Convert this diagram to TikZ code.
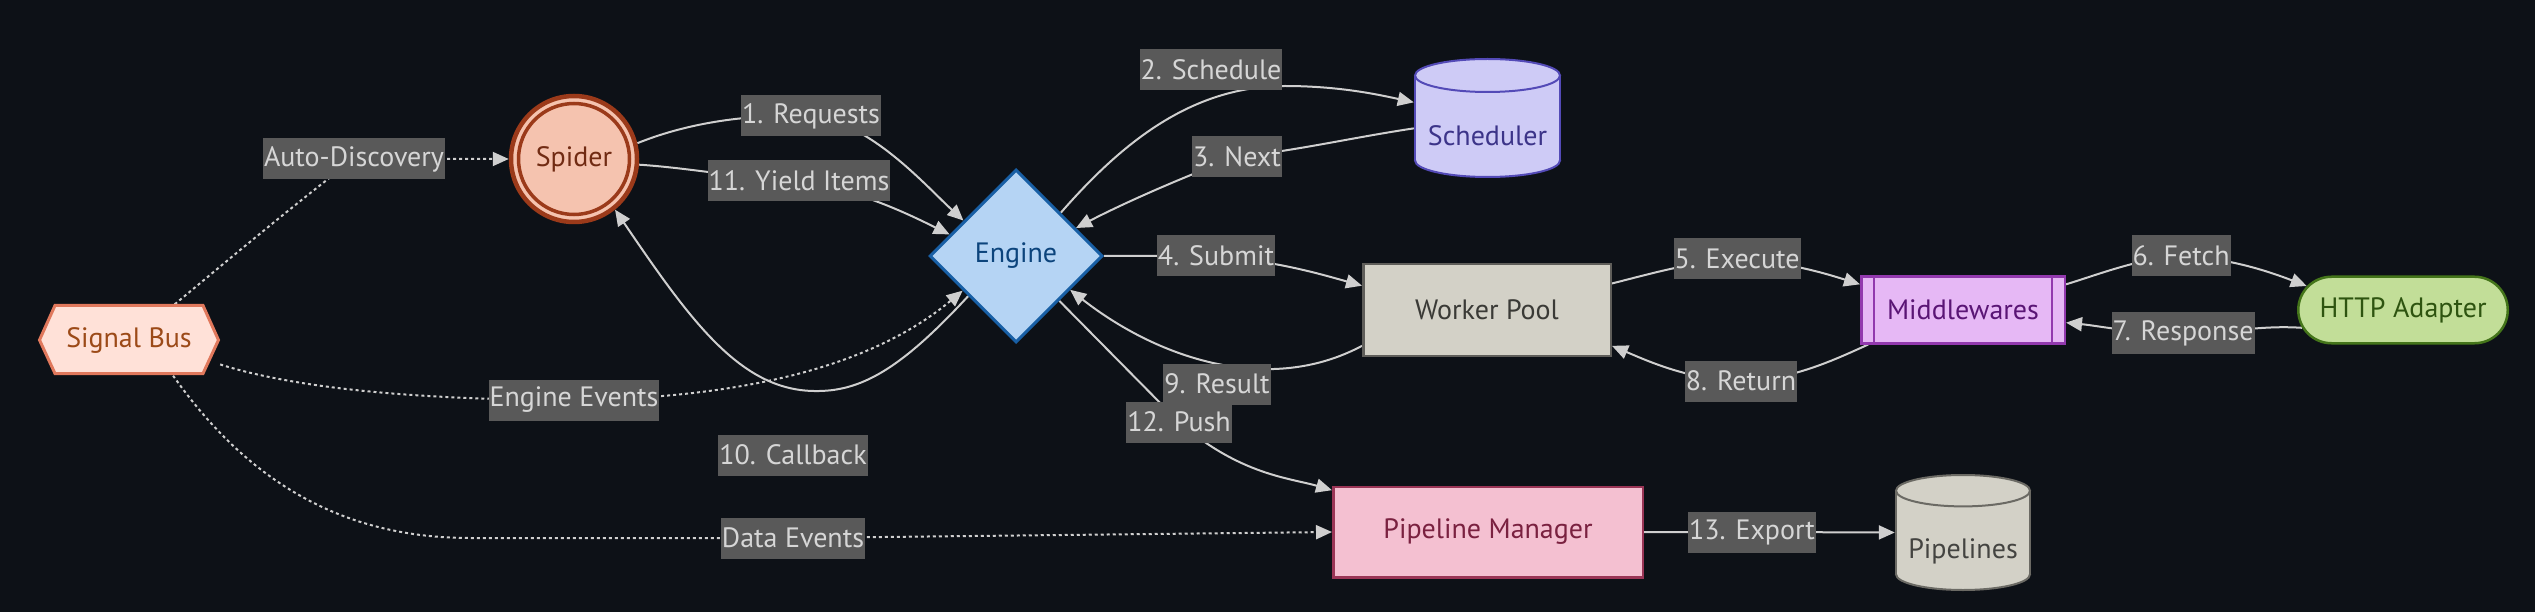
\documentclass[tikz,border=0pt]{standalone}
\usepackage{fontspec}
\setmainfont{PT Sans}
\usetikzlibrary{arrows.meta,shapes.geometric,shapes.misc}
\definecolor{bgc}{HTML}{0D1117}
\definecolor{edgec}{HTML}{CFCFCF}
\definecolor{lblbg}{HTML}{595959}
\definecolor{lbltxt}{HTML}{D6D6D6}
\definecolor{sbfill}{HTML}{FFE1D8}
\definecolor{sbdraw}{HTML}{E0785C}
\definecolor{sbtxt}{HTML}{9C4A18}
\definecolor{spfill}{HTML}{F5C3AF}
\definecolor{spdraw}{HTML}{9B3A1A}
\definecolor{sptxt}{HTML}{712B13}
\definecolor{enfill}{HTML}{B5D4F4}
\definecolor{endraw}{HTML}{185FA5}
\definecolor{entxt}{HTML}{0C447C}
\definecolor{scfill}{HTML}{CECBF6}
\definecolor{scdraw}{HTML}{534AB7}
\definecolor{sctxt}{HTML}{3C3489}
\definecolor{wpfill}{HTML}{D3D1C7}
\definecolor{wpdraw}{HTML}{5F5E5A}
\definecolor{wptxt}{HTML}{3A3A36}
\definecolor{mwfill}{HTML}{E6B8F5}
\definecolor{mwdraw}{HTML}{9239AE}
\definecolor{mwtxt}{HTML}{5A1575}
\definecolor{htfill}{HTML}{C2DE98}
\definecolor{htdraw}{HTML}{44751A}
\definecolor{httxt}{HTML}{2E5410}
\definecolor{pmfill}{HTML}{F4C0D1}
\definecolor{pmdraw}{HTML}{9A3556}
\definecolor{pmtxt}{HTML}{7A2140}
\definecolor{plfill}{HTML}{D3D1C7}
\definecolor{pldraw}{HTML}{6B6A64}
\definecolor{pltxt}{HTML}{444441}
\pgfdeclarelayer{edgelayer}
\pgfsetlayers{edgelayer,main}
\begin{document}
\begin{tikzpicture}[x=1pt,y=-1pt,
  every node/.style={font=\fontsize{28}{32}\selectfont},
  edge/.style={draw=edgec,line width=2pt,-{Triangle[length=16pt,width=14pt]}},
  dotline/.style={edge,dash pattern=on 3pt off 3pt},
  lbl/.style={fill=lblbg,text=lbltxt,inner xsep=1pt,inner ysep=0pt,minimum height=41pt},
  box/.style={rectangle,inner sep=0pt,line width=2.5pt},
  anchorbox/.style={rectangle,inner sep=0pt,draw=none}]
\useasboundingbox (0,0) rectangle (2535,612);

% Signal Bus hexagon
\filldraw[fill=sbfill,draw=sbdraw,line width=3pt] (39.5,340) -- (55,305.5) -- (203,305.5) -- (218.5,340) -- (203,373.5) -- (55,373.5) -- cycle;
\node[anchorbox,minimum width=182pt,minimum height=71pt,text=sbtxt] (sb) at (129,340) {Signal Bus};

% Spider
\node[circle,inner sep=0pt,minimum size=126pt,fill=spfill,draw=spdraw,line width=4.5pt,text=sptxt] (spider) at (574,159) {Spider};
\draw[spdraw,line width=3.5pt] (spider.center) circle [radius=55.5];

% Engine
\node[diamond,inner sep=0pt,minimum width=173pt,minimum height=173pt,fill=enfill,draw=endraw,line width=3pt,text=entxt] (engine) at (1016,256) {Engine};

% Scheduler cylinder
\filldraw[fill=scfill,draw=scdraw,line width=2pt] (1487.5,160.5) ellipse [x radius=72.5, y radius=16.5];
\fill[scfill] (1415,75.5) rectangle (1560,160.5);
\draw[scdraw,line width=2pt] (1415,75.5) -- (1415,160.5) (1560,75.5) -- (1560,160.5);
\filldraw[fill=scfill,draw=scdraw,line width=2pt] (1487.5,75.5) ellipse [x radius=72.5, y radius=16.5];
\node[anchorbox,minimum width=147pt,minimum height=120pt] (sched) at (1487.5,118) {};
\node[text=sctxt] (schedtxt) at (1487.5,136) {Scheduler};

% Worker Pool
\node[box,minimum width=247.5pt,minimum height=91.5pt,fill=wpfill,draw=wpdraw,text=wptxt] (worker) at (1487,310) {Worker Pool};

% Middlewares
\node[box,minimum width=203.5pt,minimum height=66.5pt,fill=mwfill,draw=mwdraw,text=mwtxt] (mw) at (1963,310) {Middlewares};
\draw[mwdraw,line width=2.5pt] (1874,277) -- (1874,343) (2052,277) -- (2052,343);

% HTTP Adapter
\node[rounded rectangle,inner sep=0pt,minimum width=209.5pt,minimum height=66.5pt,fill=htfill,draw=htdraw,line width=2.5pt,text=httxt] (http) at (2403,310) {HTTP Adapter};

% Pipeline Manager
\node[box,minimum width=309.5pt,minimum height=90.5pt,fill=pmfill,draw=pmdraw,text=pmtxt] (pm) at (1488,532) {Pipeline Manager};

% Pipelines cylinder
\filldraw[fill=plfill,draw=pldraw,line width=2pt] (1963,574.3) ellipse [x radius=67, y radius=15.7];
\fill[plfill] (1896,490.7) rectangle (2030,574.3);
\draw[pldraw,line width=2pt] (1896,490.7) -- (1896,574.3) (2030,490.7) -- (2030,574.3);
\filldraw[fill=plfill,draw=pldraw,line width=2pt] (1963,490.7) ellipse [x radius=67, y radius=15.7];
\node[anchorbox,minimum width=136pt,minimum height=117pt] (pipes) at (1963,532.5) {};
\node[text=pltxt] (pipestxt) at (1963,551) {Pipelines};

% Edge labels
\node[lbl] (lauto) at (354,159) {Auto-Discovery};
\node[lbl] (lreq) at (811,116) {1. Requests};
\node[lbl] (lyield) at (799,181) {11. Yield Items};
\node[lbl] (lsched) at (1211,70) {2. Schedule};
\node[lbl] (lnext) at (1237,157) {3. Next};
\node[lbl] (lsubmit) at (1216,256) {4. Submit};
\node[lbl] (lexec) at (1737,259) {5. Execute};
\node[lbl] (lfetch) at (2181,256) {6. Fetch};
\node[lbl] (lresp) at (2183,333) {7. Response};
\node[lbl] (lret) at (1741,381) {8. Return};
\node[lbl] (lres) at (1217,384) {9. Result};
\node[lbl] (lcb) at (793,455) {10. Callback};
\node[lbl] (lpush) at (1179,422) {12. Push};
\node[lbl] (lexp) at (1752,532) {13. Export};
\node[lbl] (lee) at (574,400) {Engine Events};
\node[lbl] (lde) at (793,538) {Data Events};

\begin{pgfonlayer}{edgelayer}
\fill[bgc] (0,0) rectangle (2535,612);
\draw[edge] (spider.14) .. controls (690,122) and (750,114) .. (lreq.center) .. controls (870,122) and (925,185) .. (engine.146);
\draw[edge] (spider.-5) .. controls (690,168) and (740,178) .. (lyield.center) .. controls (860,190) and (910,215) .. (engine.162);
\draw[edge] (engine.44) .. controls (1120,145) and (1190,86) .. (1285,86) .. controls (1340,86) and (1380,95) .. (sched.168);
\draw[edge] (sched.188) .. controls (1350,138) and (1300,150) .. (lnext.center) .. controls (1180,178) and (1120,205) .. (engine.25);
\draw[edge] (engine.east) -- (lsubmit.center) .. controls (1280,262) and (1320,274) .. (worker.169);
\draw[edge] (worker.12) .. controls (1650,274) and (1690,262) .. (lexec.center) .. controls (1790,262) and (1830,275) .. (mw.166);
\draw[edge] (mw.14) .. controls (2100,274) and (2140,258) .. (lfetch.center) .. controls (2230,258) and (2270,272) .. (http.166);
\draw[edge] (http.190) .. controls (2260,325) and (2230,333) .. (lresp.center) .. controls (2130,333) and (2100,326) .. (mw.-7);
\draw[edge] (mw.200) .. controls (1830,362) and (1790,380) .. (lret.center) .. controls (1690,380) and (1650,362) .. (worker.-16);
\draw[edge] (worker.196) .. controls (1270,395) and (1160,360) .. (engine.-32);
\draw[edge] (engine.220) .. controls (900,370) and (860,392) .. (814,391) .. controls (740,390) and (690,320) .. (spider.-51);
\draw[edge] (engine.-46) -- (lpush.center) .. controls (1240,475) and (1290,478) .. (pm.165);
\draw[edge] (pm.east) -- (lexp.center) -- (pipes.west);
\draw[dotline] (sb.38) .. controls (240,250) and (300,200) .. (lauto.center) -- (spider.west);
\draw[dotline] (sb.-15) .. controls (300,390) and (430,400) .. (lee.center) .. controls (760,398) and (880,360) .. (engine.213);
\draw[dotline] (sb.-39) .. controls (240,470) and (330,538) .. (470,538) -- (lde.center) -- (pm.west);
\end{pgfonlayer}
\end{tikzpicture}
\end{document}
